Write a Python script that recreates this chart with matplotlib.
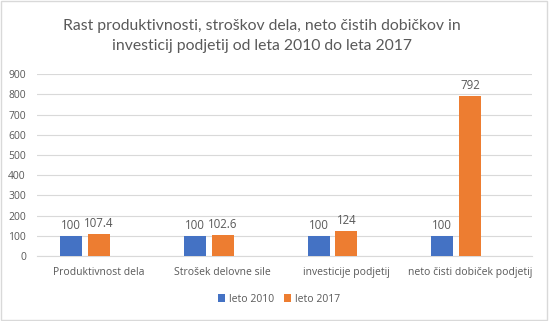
import matplotlib
matplotlib.use("Agg")
import matplotlib.pyplot as plt
import numpy as np
from matplotlib.patches import Rectangle

categories = ["Produktivnost dela", "Strošek delovne sile", "investicije podjetij", "neto čisti dobiček podjetij"]
series_names = ["leto 2010", "leto 2017"]
vals_2010 = [100, 100, 100, 100]
vals_2017 = [107.4, 102.6, 124, 792]
labels_2010 = ["100", "100", "100", "100"]
labels_2017 = ["107.4", "102.6", "124", "792"]
yticks = [0, 100, 200, 300, 400, 500, 600, 700, 800, 900]

plt.rcParams['font.family'] = ['Open Sans', 'DejaVu Sans']
grey = '#595959'

fig = plt.figure(figsize=(5.49, 3.21), dpi=100)
ax = fig.add_axes([0.0674, 0.2025, 0.9016, 0.566])

x = np.arange(len(categories))
w = 0.178
step = 0.224
b1 = ax.bar(x - step, vals_2010, w, color='#4472C4', label=series_names[0], zorder=3)
b2 = ax.bar(x, vals_2017, w, color='#ED7D31', label=series_names[1], zorder=3)
ax.bar_label(b1, labels=labels_2010, padding=3, fontsize=8.3, color=grey)
ax.bar_label(b2, labels=labels_2017, padding=3, fontsize=8.3, color=grey)

ax.set_ylim(0, 900)
ax.set_yticks(yticks)
ax.set_xlim(-0.5, len(categories) - 0.5)
ax.set_xticks(x)
ax.set_xticklabels(categories)
ax.tick_params(axis='both', length=0, labelsize=7.5, colors=grey)
ax.tick_params(axis='x', pad=8)
ax.tick_params(axis='y', pad=8)
ax.grid(axis='y', color='#d9d9d9', linewidth=0.8, zorder=0)
for s in ['top', 'right', 'left']:
    ax.spines[s].set_visible(False)
ax.spines['bottom'].set_color('#d9d9d9')

fig.text(0.477, 0.888, "Rast produktivnosti, stroškov dela, neto čistih dobičkov in\ninvesticij podjetij od leta 2010 do leta 2017",
         ha='center', va='center', fontsize=11.3, color=grey, linespacing=1.5,
         family=['Lato', 'DejaVu Sans'])

fig.legend(loc='center', bbox_to_anchor=(0.508, 0.068), ncol=2, frameon=False,
           fontsize=7.5, handlelength=0.7, handleheight=0.7, handletextpad=0.3,
           columnspacing=1.0, labelcolor=grey)

fig.patches.append(Rectangle((0.002, 0.003), 0.995, 0.994, transform=fig.transFigure,
                             fill=False, edgecolor='#d9d9d9', linewidth=1))

fig.savefig("out.png", dpi=100)
